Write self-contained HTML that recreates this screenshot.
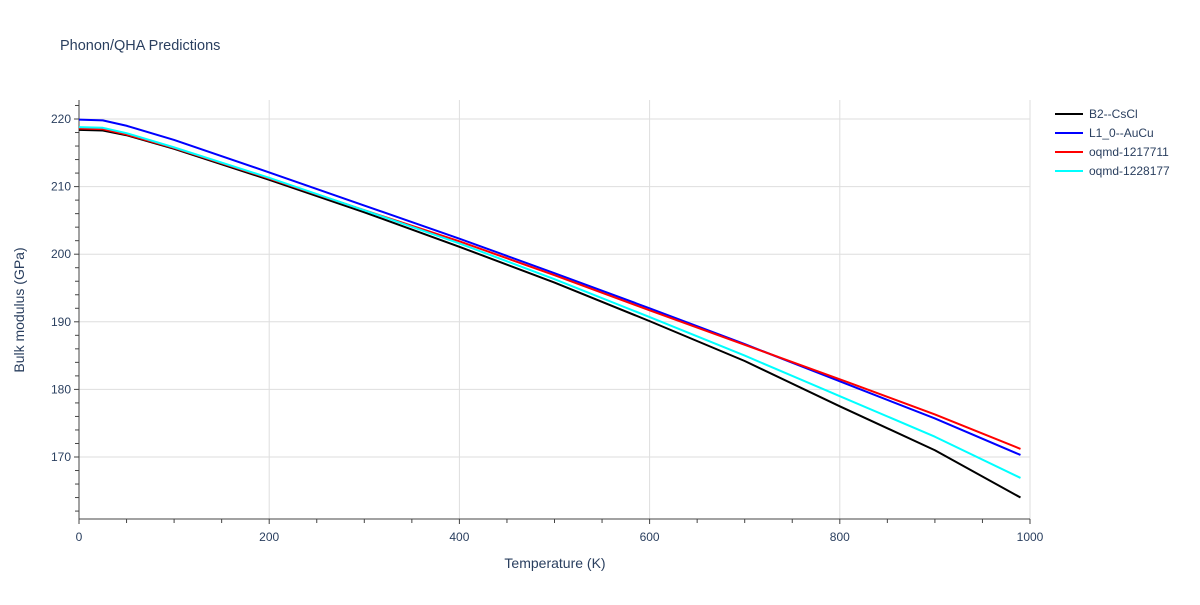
<!DOCTYPE html>
<html><head><meta charset="utf-8"><style>
body{margin:0;background:#fff;font-family:"Liberation Sans",Arial,sans-serif}
svg text{font-family:"Liberation Sans",Arial,sans-serif;fill:#2a3f5f}
</style></head><body>
<svg id="c" width="1200" height="600">
<text x="60" y="50" font-size="14.5">Phonon/QHA Predictions</text>
<g id="grid"></g><g id="axes"></g><g id="lines"></g><g id="legend"></g>
<text x="555" y="568" font-size="14" text-anchor="middle">Temperature (K)</text>
<text transform="translate(24,310) rotate(-90)" font-size="14" text-anchor="middle">Bulk modulus (GPa)</text>
</svg>
<script>
const temps=[0,25,50,100,200,300,400,500,600,700,800,900,990];
const seriesNames=["B2--CsCl","L1_0--AuCu","oqmd-1217711","oqmd-1228177"];
const seriesColors=["#000000","#0000ff","#ff0000","#00ffff"];
const b2=[218.4,218.3,217.6,215.6,211.0,206.2,201.1,195.8,190.1,184.2,177.5,171.0,164.0];
const l10=[219.9,219.8,219.0,216.9,212.1,207.2,202.3,197.2,192.0,186.7,181.2,175.7,170.3];
const oq1=[218.6,218.5,217.7,215.7,211.2,206.5,201.9,196.9,191.7,186.6,181.5,176.3,171.2];
const oq2=[218.8,218.7,217.9,215.8,211.3,206.5,201.6,196.3,190.7,185.0,179.0,173.0,166.9];
const xTicks=[0,200,400,600,800,1000];
const yTicks=[170,180,190,200,210,220];
const NS="http://www.w3.org/2000/svg";
const X0=79,X1=1030,Y0=100,Y1=519;
const xs=v=>X0+(v/1000)*(X1-X0);
const ys=v=>119+(220-v)*6.76;
function mk(t,a,p){const e=document.createElementNS(NS,t);for(const k in a)e.setAttribute(k,a[k]);document.getElementById(p).appendChild(e);return e;}
xTicks.forEach(v=>{
 if(v>0){const g=mk('line',{x1:xs(v),x2:xs(v),y1:Y0,y2:Y1,stroke:'#dedede','stroke-width':1},'grid');
 
 }
 const t=mk('text',{x:xs(v),y:541,'font-size':12,'text-anchor':'middle'},'axes');t.textContent=v;
 
 
});
for(let v=0;v<=1000;v+=50){mk('line',{x1:xs(v),x2:xs(v),y1:Y1,y2:Y1+(v%200==0?5:4),stroke:'#444','stroke-width':1},'axes');}
yTicks.forEach(v=>{
 const g=mk('line',{x1:X0,x2:X1,y1:ys(v),y2:ys(v),stroke:'#dedede','stroke-width':1},'grid');
 
 
 const t=mk('text',{x:X0-8,y:ys(v)+4,'font-size':12,'text-anchor':'end'},'axes');t.textContent=v;
 
 
});
for(let v=162;v<=222;v+=2){mk('line',{x1:X0-(v%10==0?5:4),x2:X0,y1:ys(v),y2:ys(v),stroke:'#444','stroke-width':1},'axes');}
mk('line',{x1:X0,x2:X0,y1:Y0,y2:Y1,stroke:'#444','stroke-width':1},'axes');
mk('line',{x1:X0,x2:X1,y1:Y1,y2:Y1,stroke:'#444','stroke-width':1},'axes');
[b2,l10,oq1,oq2].forEach((s,i)=>{
 const p=mk('polyline',{points:s.map((v,j)=>xs(temps[j])+','+ys(v)).join(' '),fill:'none',stroke:seriesColors[i],'stroke-width':2,'stroke-linejoin':'round'},'lines');
 
 
 const ly=114+i*19;
 const l=mk('line',{x1:1055,x2:1083,y1:ly,y2:ly,stroke:seriesColors[i],'stroke-width':2},'legend');
 
 
 const t=mk('text',{x:1089,y:ly+4,'font-size':12},'legend');t.textContent=seriesNames[i];
 
 
});
</script>
</body></html>
